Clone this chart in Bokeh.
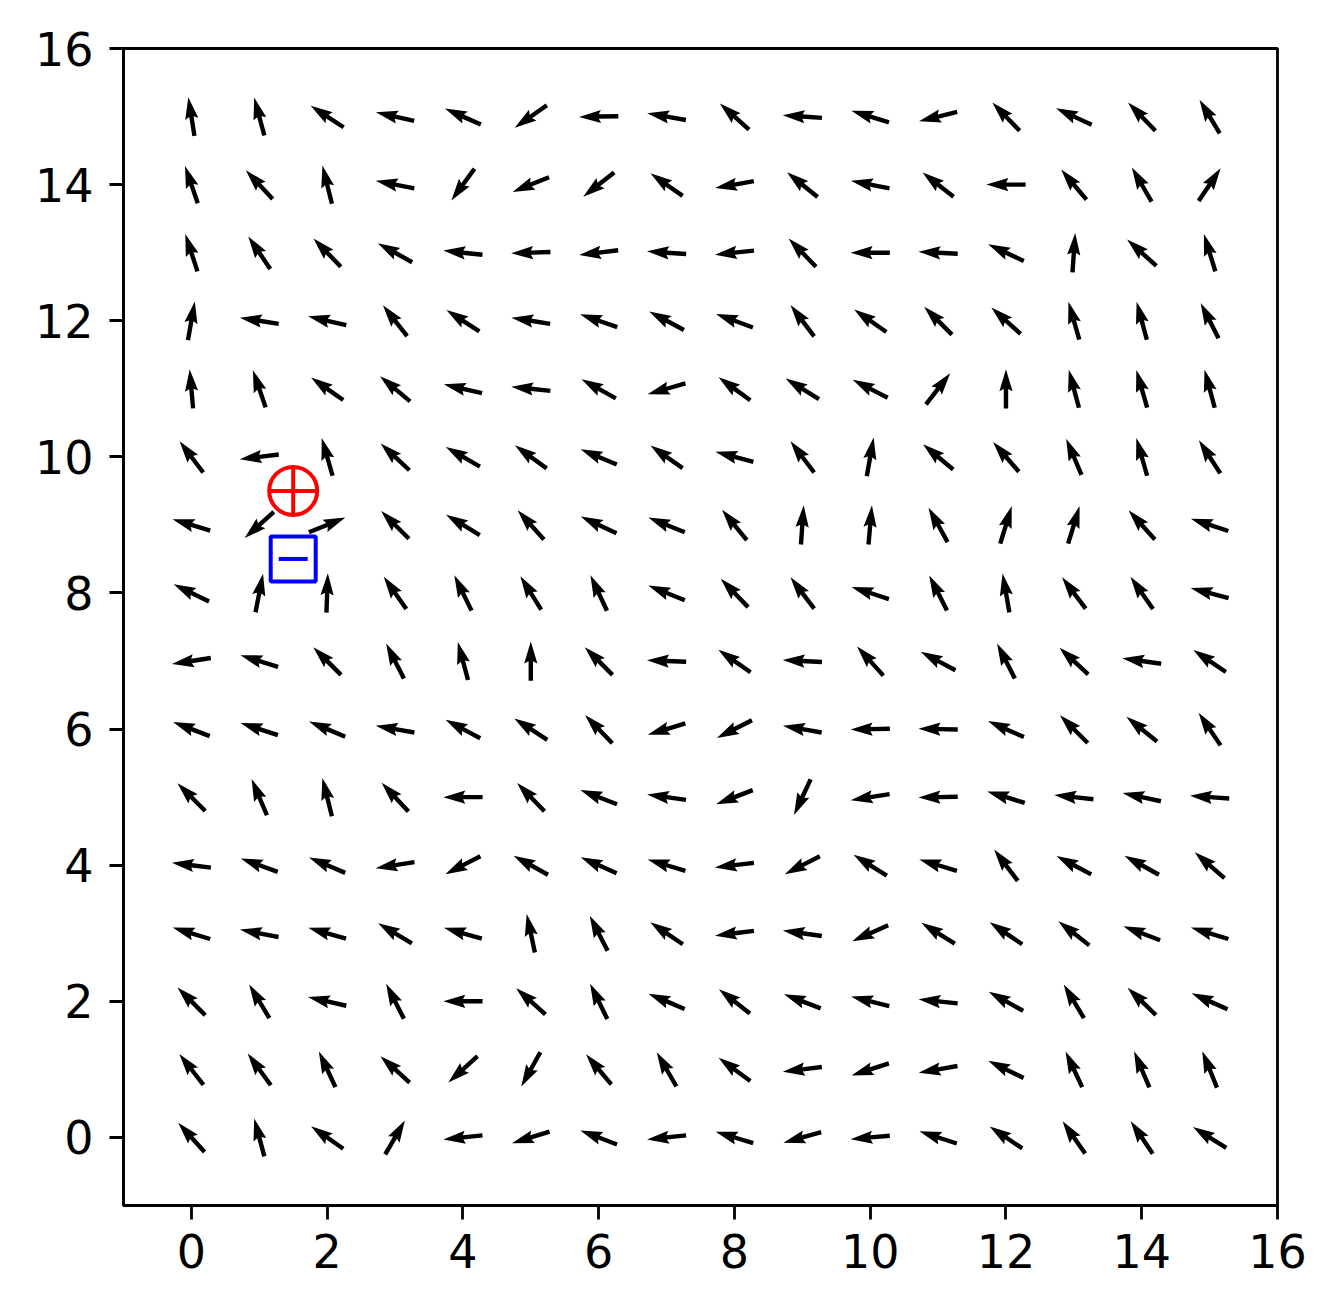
import numpy as np
from bokeh.plotting import figure
from bokeh.models import Range1d, FixedTicker
from bokeh.embed import file_html
from bokeh.resources import INLINE

# grid positions
grid_x = list(range(16))
grid_y = list(range(16))

# arrow directions (degrees, counter-clockwise from +x), one list per grid row y
angle_y0 = [132, 105, 145, 60, 186, 197, 159, 186, 163, 196, 185, 162, 146, 125, 124, 148]
angle_y1 = [128, 126, 115, 138, 222, 241, 130, 120, 144, 187, 198, 190, 154, 115, 113, 112]
angle_y2 = [135, 121, 167, 117, 180, 138, 116, 157, 142, 159, 166, 174, 151, 121, 136, 156]
angle_y3 = [163, 169, 164, 149, 164, 102, 117, 146, 187, 172, 204, 148, 146, 142, 159, 163]
angle_y4 = [173, 160, 157, 189, 207, 151, 156, 163, 187, 207, 148, 163, 127, 152, 151, 139]
angle_y5 = [135, 113, 104, 133, 180, 134, 159, 172, 201, 245, 189, 181, 163, 174, 168, 176]
angle_y6 = [159, 162, 157, 170, 152, 147, 134, 197, 207, 170, 181, 179, 156, 135, 141, 124]
angle_y7 = [189, 163, 135, 117, 105, 90, 135, 178, 145, 177, 132, 152, 117, 137, 172, 146]
angle_y8 = [154, 79, 88, 125, 116, 122, 115, 158, 134, 127, 162, 117, 100, 127, 125, 165]
angle_y9 = [163, 222, 22, 135, 149, 132, 155, 158, 129, 86, 85, 119, 73, 73, 132, 162]
angle_y10 = [127, 187, 106, 137, 150, 144, 157, 145, 165, 127, 80, 140, 131, 113, 106, 123]
angle_y11 = [95, 109, 145, 140, 167, 174, 151, 196, 144, 148, 153, 52, 90, 105, 106, 105]
angle_y12 = [80, 171, 167, 128, 147, 171, 161, 152, 160, 127, 145, 135, 138, 106, 105, 117]
angle_y13 = [108, 124, 134, 151, 174, 182, 187, 176, 186, 134, 180, 177, 155, 86, 138, 107]
angle_y14 = [109, 133, 104, 169, 234, 202, 218, 145, 190, 141, 169, 142, 180, 130, 120, 56]
angle_y15 = [99, 105, 147, 167, 156, 215, 181, 170, 138, 176, 163, 194, 134, 155, 134, 121]

angle_rows = [angle_y0, angle_y1, angle_y2, angle_y3, angle_y4, angle_y5, angle_y6, angle_y7,
              angle_y8, angle_y9, angle_y10, angle_y11, angle_y12, angle_y13, angle_y14, angle_y15]

# charges
plus_x, plus_y = [1.5], [9.5]
minus_x, minus_y = [1.5], [8.5]

x_ticks = [0, 2, 4, 6, 8, 10, 12, 14, 16]
y_ticks = [0, 2, 4, 6, 8, 10, 12, 14, 16]

FW, FH = 1154, 1157
x0, x1, y0, y1 = -1, 16, -1, 16
sx = FW / (x1 - x0)   # px per data unit
sy = FH / (y1 - y0)

# matplotlib-like quiver arrow shape (pixel units), pivot at middle
Lpx = 39.3
w = 4.4
a_loc = np.array([-Lpx / 2, Lpx / 2 - 4.5 * w, Lpx / 2 - 5 * w, Lpx / 2,
                  Lpx / 2 - 5 * w, Lpx / 2 - 4.5 * w, -Lpx / 2])
b_loc = np.array([w / 2, w / 2, 1.5 * w, 0, -1.5 * w, -w / 2, -w / 2])

patch_xs, patch_ys = [], []
for j, yv in enumerate(grid_y):
    for i, xv in enumerate(grid_x):
        th = np.deg2rad(angle_rows[j][i])
        c, s = np.cos(th), np.sin(th)
        px = a_loc * c - b_loc * s
        py = a_loc * s + b_loc * c
        patch_xs.append(list(xv + px / sx))
        patch_ys.append(list(yv + py / sy))

p = figure(frame_width=FW, frame_height=FH,
           x_range=Range1d(x0, x1), y_range=Range1d(y0, y1),
           output_backend="svg", toolbar_location=None,
           min_border_left=123, min_border_top=48,
           min_border_right=50, min_border_bottom=95)

p.xgrid.visible = False
p.ygrid.visible = False
p.background_fill_color = "white"
p.border_fill_color = "white"
p.outline_line_color = "black"
p.outline_line_width = 2.8

p.xaxis.ticker = FixedTicker(ticks=x_ticks)
p.yaxis.ticker = FixedTicker(ticks=y_ticks)
for ax in (p.xaxis, p.yaxis):
    ax.axis_line_width = 2.8
    ax.axis_line_color = "black"
    ax.major_tick_line_width = 2.8
    ax.major_tick_line_color = "black"
    ax.major_tick_out = 14
    ax.major_tick_in = 0
    ax.minor_tick_line_color = None
    ax.major_label_text_font = "DejaVu Sans"
    ax.major_label_text_font_size = "46px"
    ax.major_label_text_color = "black"
p.xaxis.major_label_standoff = 14
p.yaxis.major_label_standoff = 16

p.patches(xs=patch_xs, ys=patch_ys, fill_color="black", line_color=None)

p.scatter(x=plus_x, y=plus_y, marker="circle_cross", size=48,
          line_color="red", line_width=4, fill_color=None)
p.scatter(x=minus_x, y=minus_y, marker="square", size=45,
          line_color="blue", line_width=4, fill_color=None)
p.scatter(x=minus_x, y=minus_y, marker="dash", size=29,
          line_color="blue", line_width=4)

open("out.html", "w").write(file_html(p, INLINE))
